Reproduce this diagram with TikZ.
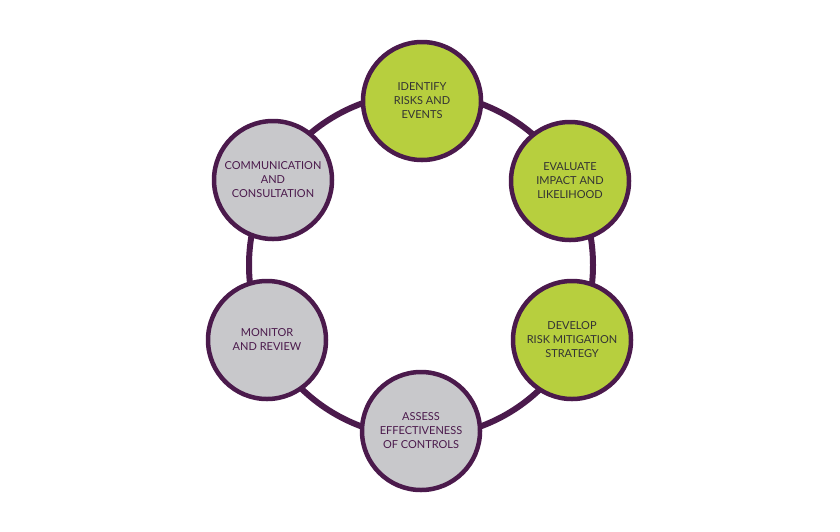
\documentclass[tikz,border=0pt]{standalone}
\usepackage{fontspec}
\setmainfont{Lato}
\usepackage{tikz}

\definecolor{ringpurple}{HTML}{4B1A4C}
\definecolor{stepgreen}{HTML}{B7CF3E}
\definecolor{stepgrey}{HTML}{C8C8CB}

\tikzset{
    phase/.style={circle, draw=ringpurple, line width=4.5pt, minimum size=118pt,
        inner sep=0pt, align=center, font=\fontsize{11}{14}\selectfont},
    greenphase/.style={phase, fill=stepgreen, text=black!80},
    greyphase/.style={phase, fill=stepgrey, text=ringpurple}
}

\begin{document}
\begin{tikzpicture}[x=1pt, y=-1pt]
    \useasboundingbox (0,0) rectangle (840,531);

    \coordinate (hub) at (421,265);
    \draw[ringpurple, line width=6pt] (hub) circle (172pt);

    \node[greenphase] (identify) at (422,101) {IDENTIFY\\RISKS AND\\EVENTS};
    \node[greenphase] (evaluate) at (570,181) {EVALUATE\\IMPACT AND\\LIKELIHOOD};
    \node[greenphase] (develop) at (572,340) {DEVELOP\\RISK MITIGATION\\STRATEGY};
    \node[greyphase] (assess) at (421,431) {ASSESS\\EFFECTIVENESS\\OF CONTROLS};
    \node[greyphase] (monitor) at (267,340) {MONITOR\\AND REVIEW};
    \node[greyphase] (communicate) at (273,180) {COMMUNICATION\\AND\\CONSULTATION};
\end{tikzpicture}
\end{document}
